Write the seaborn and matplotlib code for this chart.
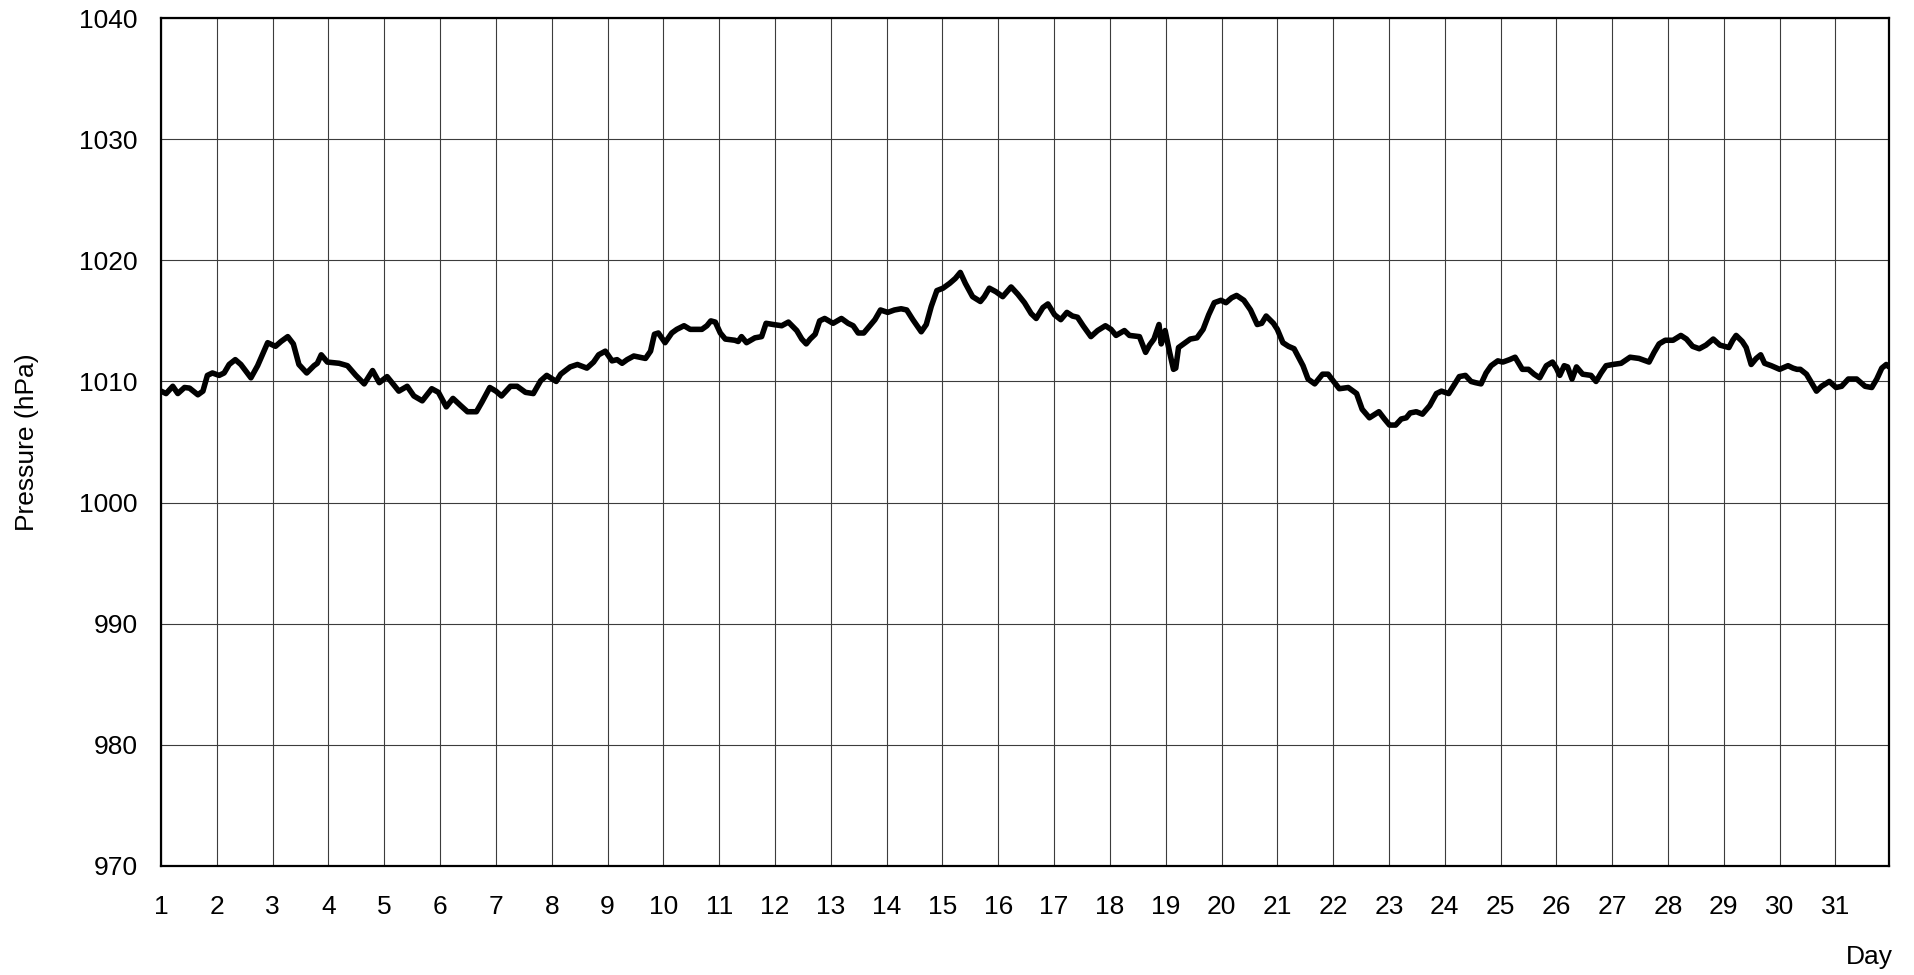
import matplotlib
matplotlib.use("Agg")
import matplotlib.pyplot as plt
import seaborn as sns
import pandas as pd

# day of month (fractional) and sea-level pressure
day = [
    1.00, 1.09, 1.21, 1.30, 1.42, 1.51, 1.66, 1.75, 1.83, 1.92,
    2.04, 2.13, 2.22, 2.33, 2.43, 2.61, 2.73, 2.91, 3.05, 3.15,
    3.27, 3.37, 3.47, 3.61, 3.74, 3.80, 3.87, 3.98, 4.19, 4.34,
    4.49, 4.64, 4.79, 4.91, 5.05, 5.26, 5.41, 5.53, 5.68, 5.85,
    5.97, 6.11, 6.23, 6.37, 6.49, 6.65, 6.75,
    6.89, 7.00, 7.10, 7.26, 7.38, 7.53, 7.67, 7.80, 7.91, 8.08,
    8.16, 8.33, 8.46, 8.63, 8.75, 8.84, 8.96, 9.08, 9.17, 9.26,
    9.35, 9.47, 9.68, 9.77, 9.84, 9.91, 10.03, 10.15, 10.24, 10.37,
    10.48, 10.69, 10.78, 10.85, 10.93, 11.02, 11.11, 11.28, 11.34, 11.40,
    11.49, 11.64, 11.76, 11.84, 11.97, 12.12, 12.24, 12.39, 12.48, 12.56,
    12.63, 12.72,
    12.80, 12.89, 13.04, 13.19, 13.31, 13.40, 13.49, 13.59, 13.70, 13.79,
    13.89, 14.02, 14.14, 14.26, 14.36, 14.47, 14.62, 14.71, 14.80, 14.90,
    15.01, 15.13, 15.23, 15.32, 15.41, 15.54, 15.68, 15.75, 15.84, 15.96,
    16.08, 16.23, 16.35, 16.47, 16.59, 16.68, 16.80, 16.89, 17.01, 17.12,
    17.23, 17.33, 17.42, 17.52, 17.66, 17.78, 17.92, 18.02, 18.11, 18.26,
    18.35, 18.53,
    18.64, 18.71, 18.79, 18.88, 18.92, 18.99, 19.07, 19.14, 19.18, 19.23,
    19.32, 19.44, 19.56, 19.67, 19.77, 19.87, 19.99, 20.08, 20.18, 20.27,
    20.40, 20.52, 20.64, 20.72, 20.80, 20.93, 21.00, 21.10, 21.20, 21.30,
    21.46, 21.55, 21.67, 21.81, 21.91, 22.00, 22.11, 22.27, 22.42, 22.52,
    22.65, 22.82, 22.92, 23.01, 23.12, 23.22, 23.31, 23.38, 23.49, 23.60,
    23.73, 23.85, 23.94, 24.07, 24.18, 24.26, 24.37, 24.47,
    24.55, 24.65, 24.74, 24.83, 24.95, 25.04, 25.16, 25.26, 25.39, 25.50,
    25.60, 25.70, 25.82, 25.93, 26.00, 26.06, 26.14, 26.20, 26.28, 26.36,
    26.47, 26.62, 26.71, 26.80, 26.89, 27.01, 27.16, 27.32, 27.48, 27.66,
    27.75, 27.84, 27.95, 28.09, 28.23, 28.33, 28.44,
    28.56, 28.68, 28.81, 28.93, 29.09, 29.16, 29.22, 29.33, 29.40, 29.49,
    29.58, 29.66, 29.73, 29.85, 30.00, 30.15, 30.24, 30.31, 30.37, 30.48,
    30.57, 30.66, 30.75, 30.89, 31.01, 31.11, 31.23, 31.38, 31.53, 31.65,
    31.74, 31.83, 31.91, 31.96,
]

pressure_hpa = [
    1009.2, 1009.0, 1009.6, 1009.0, 1009.5, 1009.45, 1008.9, 1009.2, 1010.5, 1010.7,
    1010.5, 1010.7, 1011.4, 1011.8, 1011.4, 1010.3, 1011.3, 1013.2, 1012.9, 1013.3,
    1013.7, 1013.1, 1011.4, 1010.7, 1011.3, 1011.5, 1012.2, 1011.6, 1011.5, 1011.3,
    1010.5, 1009.8, 1010.9, 1009.9, 1010.4, 1009.2, 1009.6, 1008.8, 1008.4, 1009.4,
    1009.1, 1007.9, 1008.6, 1008.0, 1007.5, 1007.5, 1008.3,
    1009.5, 1009.2, 1008.8, 1009.6, 1009.6, 1009.1, 1009.0, 1010.05, 1010.5, 1010.0,
    1010.6, 1011.2, 1011.4, 1011.1, 1011.6, 1012.2, 1012.5, 1011.7, 1011.8, 1011.5,
    1011.8, 1012.1, 1011.9, 1012.5, 1013.9, 1014.0, 1013.2, 1014.0, 1014.3, 1014.6,
    1014.3, 1014.3, 1014.6, 1015.0, 1014.9, 1014.0, 1013.5, 1013.4, 1013.3, 1013.7,
    1013.2, 1013.6, 1013.7, 1014.8, 1014.7, 1014.6, 1014.9, 1014.2, 1013.5, 1013.1,
    1013.5, 1013.9,
    1015.0, 1015.2, 1014.8, 1015.2, 1014.8, 1014.6, 1014.0, 1014.0, 1014.6, 1015.1,
    1015.9, 1015.7, 1015.9, 1016.0, 1015.9, 1015.1, 1014.1, 1014.7, 1016.2, 1017.5,
    1017.7, 1018.1, 1018.5, 1019.0, 1018.1, 1017.0, 1016.6, 1017.0, 1017.7, 1017.4,
    1017.0, 1017.8, 1017.2, 1016.5, 1015.6, 1015.2, 1016.1, 1016.4, 1015.5, 1015.1,
    1015.7, 1015.4, 1015.3, 1014.6, 1013.7, 1014.2, 1014.6, 1014.3, 1013.8, 1014.2,
    1013.8, 1013.7,
    1012.4, 1013.0, 1013.5, 1014.7, 1013.1, 1014.2, 1012.4, 1011.0, 1011.1, 1012.8,
    1013.1, 1013.5, 1013.6, 1014.3, 1015.5, 1016.5, 1016.7, 1016.5, 1016.9, 1017.1,
    1016.7, 1015.9, 1014.7, 1014.8, 1015.4, 1014.8, 1014.3, 1013.2, 1012.9, 1012.7,
    1011.3, 1010.2, 1009.8, 1010.6, 1010.6, 1010.05, 1009.4, 1009.5, 1009.0, 1007.7,
    1007.0, 1007.5, 1006.9, 1006.4, 1006.4, 1006.9, 1007.0, 1007.4, 1007.5, 1007.3,
    1008.0, 1009.0, 1009.2, 1009.0, 1009.8, 1010.4, 1010.5, 1010.0,
    1009.9, 1009.8, 1010.7, 1011.3, 1011.7, 1011.6, 1011.8, 1012.0, 1011.0, 1011.0,
    1010.6, 1010.3, 1011.3, 1011.6, 1011.1, 1010.5, 1011.3, 1011.2, 1010.2, 1011.2,
    1010.6, 1010.5, 1010.0, 1010.7, 1011.3, 1011.4, 1011.5, 1012.0, 1011.9, 1011.6,
    1012.4, 1013.1, 1013.4, 1013.4, 1013.8, 1013.5, 1012.9,
    1012.7, 1013.0, 1013.5, 1013.0, 1012.8, 1013.4, 1013.8, 1013.3, 1012.8, 1011.4,
    1011.9, 1012.2, 1011.5, 1011.3, 1011.0, 1011.3, 1011.1, 1011.0, 1011.0, 1010.6,
    1009.9, 1009.2, 1009.6, 1010.0, 1009.5, 1009.6, 1010.2, 1010.2, 1009.6, 1009.5,
    1010.2, 1011.1, 1011.4, 1011.2,
]

x_ticks = list(range(1, 32))
y_ticks = list(range(970, 1041, 10))

sns.set_theme(style="white")
plt.rcParams["font.family"] = ["Liberation Sans", "DejaVu Sans"]

df = pd.DataFrame({"day": day, "pressure": pressure_hpa})

fig = plt.figure(figsize=(19.15, 9.75), dpi=100)
ax = fig.add_axes([0.0841, 0.1118, 0.9023, 0.8697])

sns.lineplot(data=df, x="day", y="pressure", color="black", linewidth=4,
             ax=ax, sort=False, solid_joinstyle="round", solid_capstyle="round")

ax.set_xlim(1, 31 + 23 / 24)
ax.set_ylim(970, 1040)
ax.set_xticks(x_ticks)
ax.set_yticks(y_ticks)
ax.grid(True, color="#3c3c3c", linewidth=0.8)
ax.set_axisbelow(True)

for s in ax.spines.values():
    s.set_color("black")
    s.set_linewidth(1.6)

ax.tick_params(axis="both", labelsize=19, colors="black", direction="in",
               length=0)
ax.tick_params(axis="x", pad=21)
ax.tick_params(axis="y", pad=17)
ax.set_xlabel("")
ax.set_ylabel("")

fig.text(27 / 1915, 0.5467, "Pressure (hPa)", rotation=90, ha="center",
         va="center", fontsize=19, color="black")
fig.text(1893 / 1915, 0.0113, "Day", ha="right", va="baseline",
         fontsize=19, color="black")

fig.savefig("out.png", dpi=100)
